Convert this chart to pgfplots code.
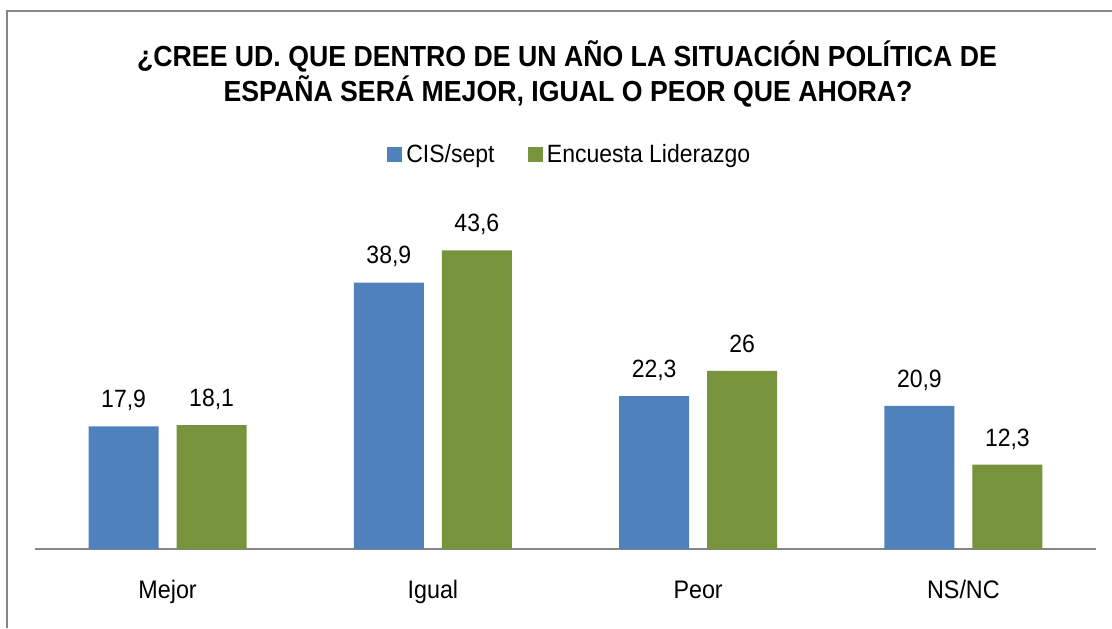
\documentclass[border=0pt]{standalone}
\usepackage{pgfplots}
\pgfplotsset{compat=1.18}
\usepackage{fontspec}
\setmainfont{Liberation Sans}[FakeStretch=0.92]
\definecolor{cblue}{HTML}{4F81BD}
\definecolor{cgreen}{HTML}{77933C}
\definecolor{cgray}{HTML}{868686}
\begin{document}
\begin{tikzpicture}
\useasboundingbox (0pt,0pt) rectangle (834pt,471pt);
\fill[white] (0pt,0pt) rectangle (834pt,471pt);
\draw[cgray, line width=1.5pt] (5.25pt,0pt) -- (5.25pt,462.75pt) -- (834pt,462.75pt);
\node[anchor=base, font=\fontsize{21.75pt}{26pt}\selectfont\bfseries] at (425.25pt,420.75pt) {¿CREE UD. QUE DENTRO DE UN AÑO LA SITUACIÓN POLÍTICA DE};
\node[anchor=base, font=\fontsize{21.75pt}{26pt}\selectfont\bfseries] at (426pt,394.5pt) {ESPAÑA SERÁ MEJOR, IGUAL O PEOR QUE AHORA?};
\begin{axis}[
  at={(26.25pt,59.25pt)}, anchor=south west,
  scale only axis,
  width=795.75pt, height=256.9pt,
  xmin=-0.5, xmax=3.5, ymin=0, ymax=50,
  ybar, bar width=52.5pt,
  axis x line*=bottom, axis y line=none,
  x axis line style={cgray, line width=1.5pt, -},
  xtick={0,1,2,3}, xticklabels={Mejor,Igual,Peor,NS/NC},
  xtick style={draw=none},
  x tick label style={font=\fontsize{19pt}{22pt}\selectfont, anchor=base, yshift=-33pt},
  /pgf/number format/assume math mode=true,
  /pgf/number format/use comma, /pgf/number format/fixed, /pgf/number format/precision=1,
  nodes near coords,
  every node near coord/.append style={font=\fontsize{18.75pt}{22pt}\selectfont, anchor=base, yshift=14pt},
  legend columns=2,
  legend style={draw=none, at={(0.505,1)}, anchor=center, yshift=39pt,
    font=\fontsize{18.75pt}{22pt}\selectfont,
    /tikz/every even column/.append style={column sep=22pt},
    nodes={inner xsep=3pt}},
  legend image code/.code={\fill[#1, draw=none] (0pt,-5.6pt) rectangle (11.25pt,5.6pt);},
  clip=false,
]
\addplot[fill=cblue, draw=none, bar shift=-33pt] coordinates {(0,17.9) (1,38.9) (2,22.3) (3,20.9)};
\addplot[fill=cgreen, draw=none, bar shift=33pt] coordinates {(0,18.1) (1,43.6) (2,26) (3,12.3)};
\legend{CIS/sept, Encuesta Liderazgo}
\end{axis}
\end{tikzpicture}
\end{document}
